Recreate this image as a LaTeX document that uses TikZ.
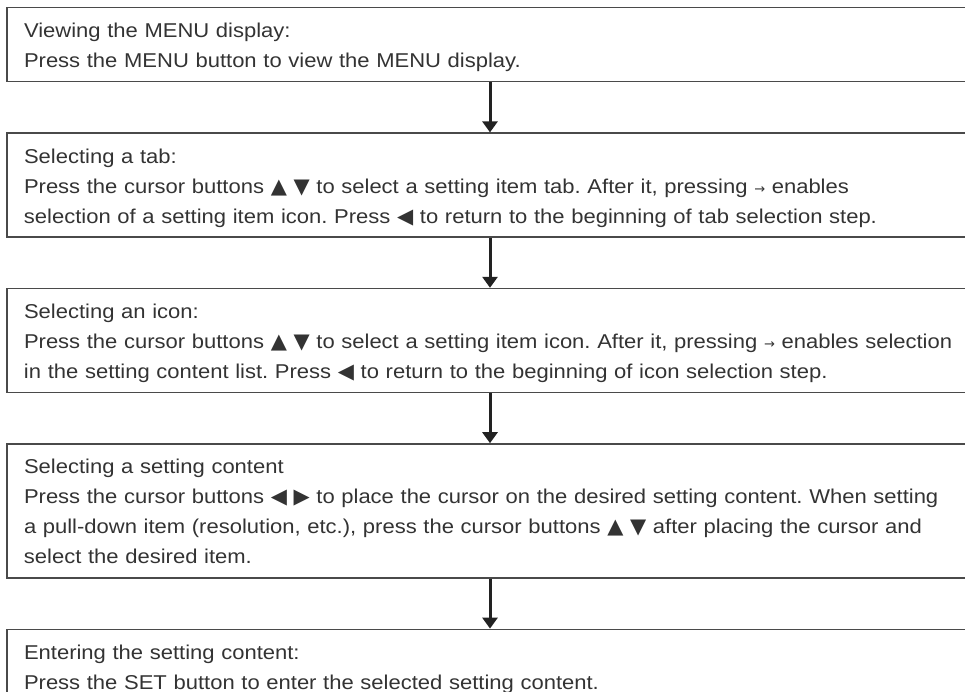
\documentclass[tikz,border=0pt]{standalone}
\usepackage{fontspec}
\setmainfont[FakeStretch=1.1]{Liberation Sans}
\newfontfamily\symfont{DejaVu Sans}
\usetikzlibrary{positioning,arrows.meta}

\definecolor{textgray}{HTML}{333333}
\definecolor{boxgray}{HTML}{4A4A4A}
\definecolor{arrowgray}{HTML}{222222}

\frenchspacing
\hyphenpenalty=10000
\exhyphenpenalty=10000

\newcommand\flowfont{\fontsize{20}{30}\selectfont}
\newcommand\upkey{{\symfont\fontsize{21}{30}\selectfont ▲}}
\newcommand\downkey{{\symfont\fontsize{21}{30}\selectfont ▼}}
\newcommand\leftkey{{\symfont\fontsize{21}{30}\selectfont ◀}}
\newcommand\rightkey{{\symfont\fontsize{21}{30}\selectfont ▶}}
\newcommand\nextkey{{\symfont\fontsize{13}{30}\selectfont →}}

\begin{document}
\begin{tikzpicture}[x=1pt, y=1pt, node distance=50pt]
        \tikzstyle{stepbox}=[
            draw=boxgray, line width=1.4pt, anchor=north,
            minimum width=966pt, text width=932pt, inner xsep=17pt, inner ysep=0pt,
            align=left, font=\flowfont, text=textgray,
            execute at begin node={\rule{0pt}{30pt}},
            execute at end node={\rule[-14pt]{0pt}{14pt}}
        ]
        \tikzstyle{flow}=[draw=arrowgray, line width=3pt, -{Triangle[width=15pt,length=11pt]}]

        \useasboundingbox (0,0) rectangle (965,-691);
        \clip (0,0) rectangle (965,-691);

        % The five steps
        \node[stepbox] (view) at (490,-7)
            {Viewing the MENU display:\\
             Press the MENU button to view the MENU display.};
        \node[stepbox, below=of view] (tab)
            {Selecting a tab:\\
             Press the cursor buttons \upkey\ \downkey\ to select a setting item tab. After it, pressing \nextkey\ enables\\
             selection of a setting item icon. Press \leftkey\ to return to the beginning of tab selection step.};
        \node[stepbox, below=of tab] (icon)
            {Selecting an icon:\\
             Press the cursor buttons \upkey\ \downkey\ to select a setting item icon. After it, pressing \nextkey\ enables selection\\
             in the setting content list. Press \leftkey\ to return to the beginning of icon selection step.};
        \node[stepbox, below=of icon] (content)
            {Selecting a setting content\\
             Press the cursor buttons \leftkey\ \rightkey\ to place the cursor on the desired setting content. When setting\\
             a pull-down item (resolution, etc.), press the cursor buttons \upkey\ \downkey\ after placing the cursor and\\
             select the desired item.};
        \node[stepbox, below=of content] (enter)
            {Entering the setting content:\\
             Press the SET button to enter the selected setting content.};

        % Connect each step with the next one
        \foreach \source/\dest in {view/tab, tab/icon, icon/content, content/enter}
            \draw[flow] (\source) -- (\dest);
\end{tikzpicture}
\end{document}
